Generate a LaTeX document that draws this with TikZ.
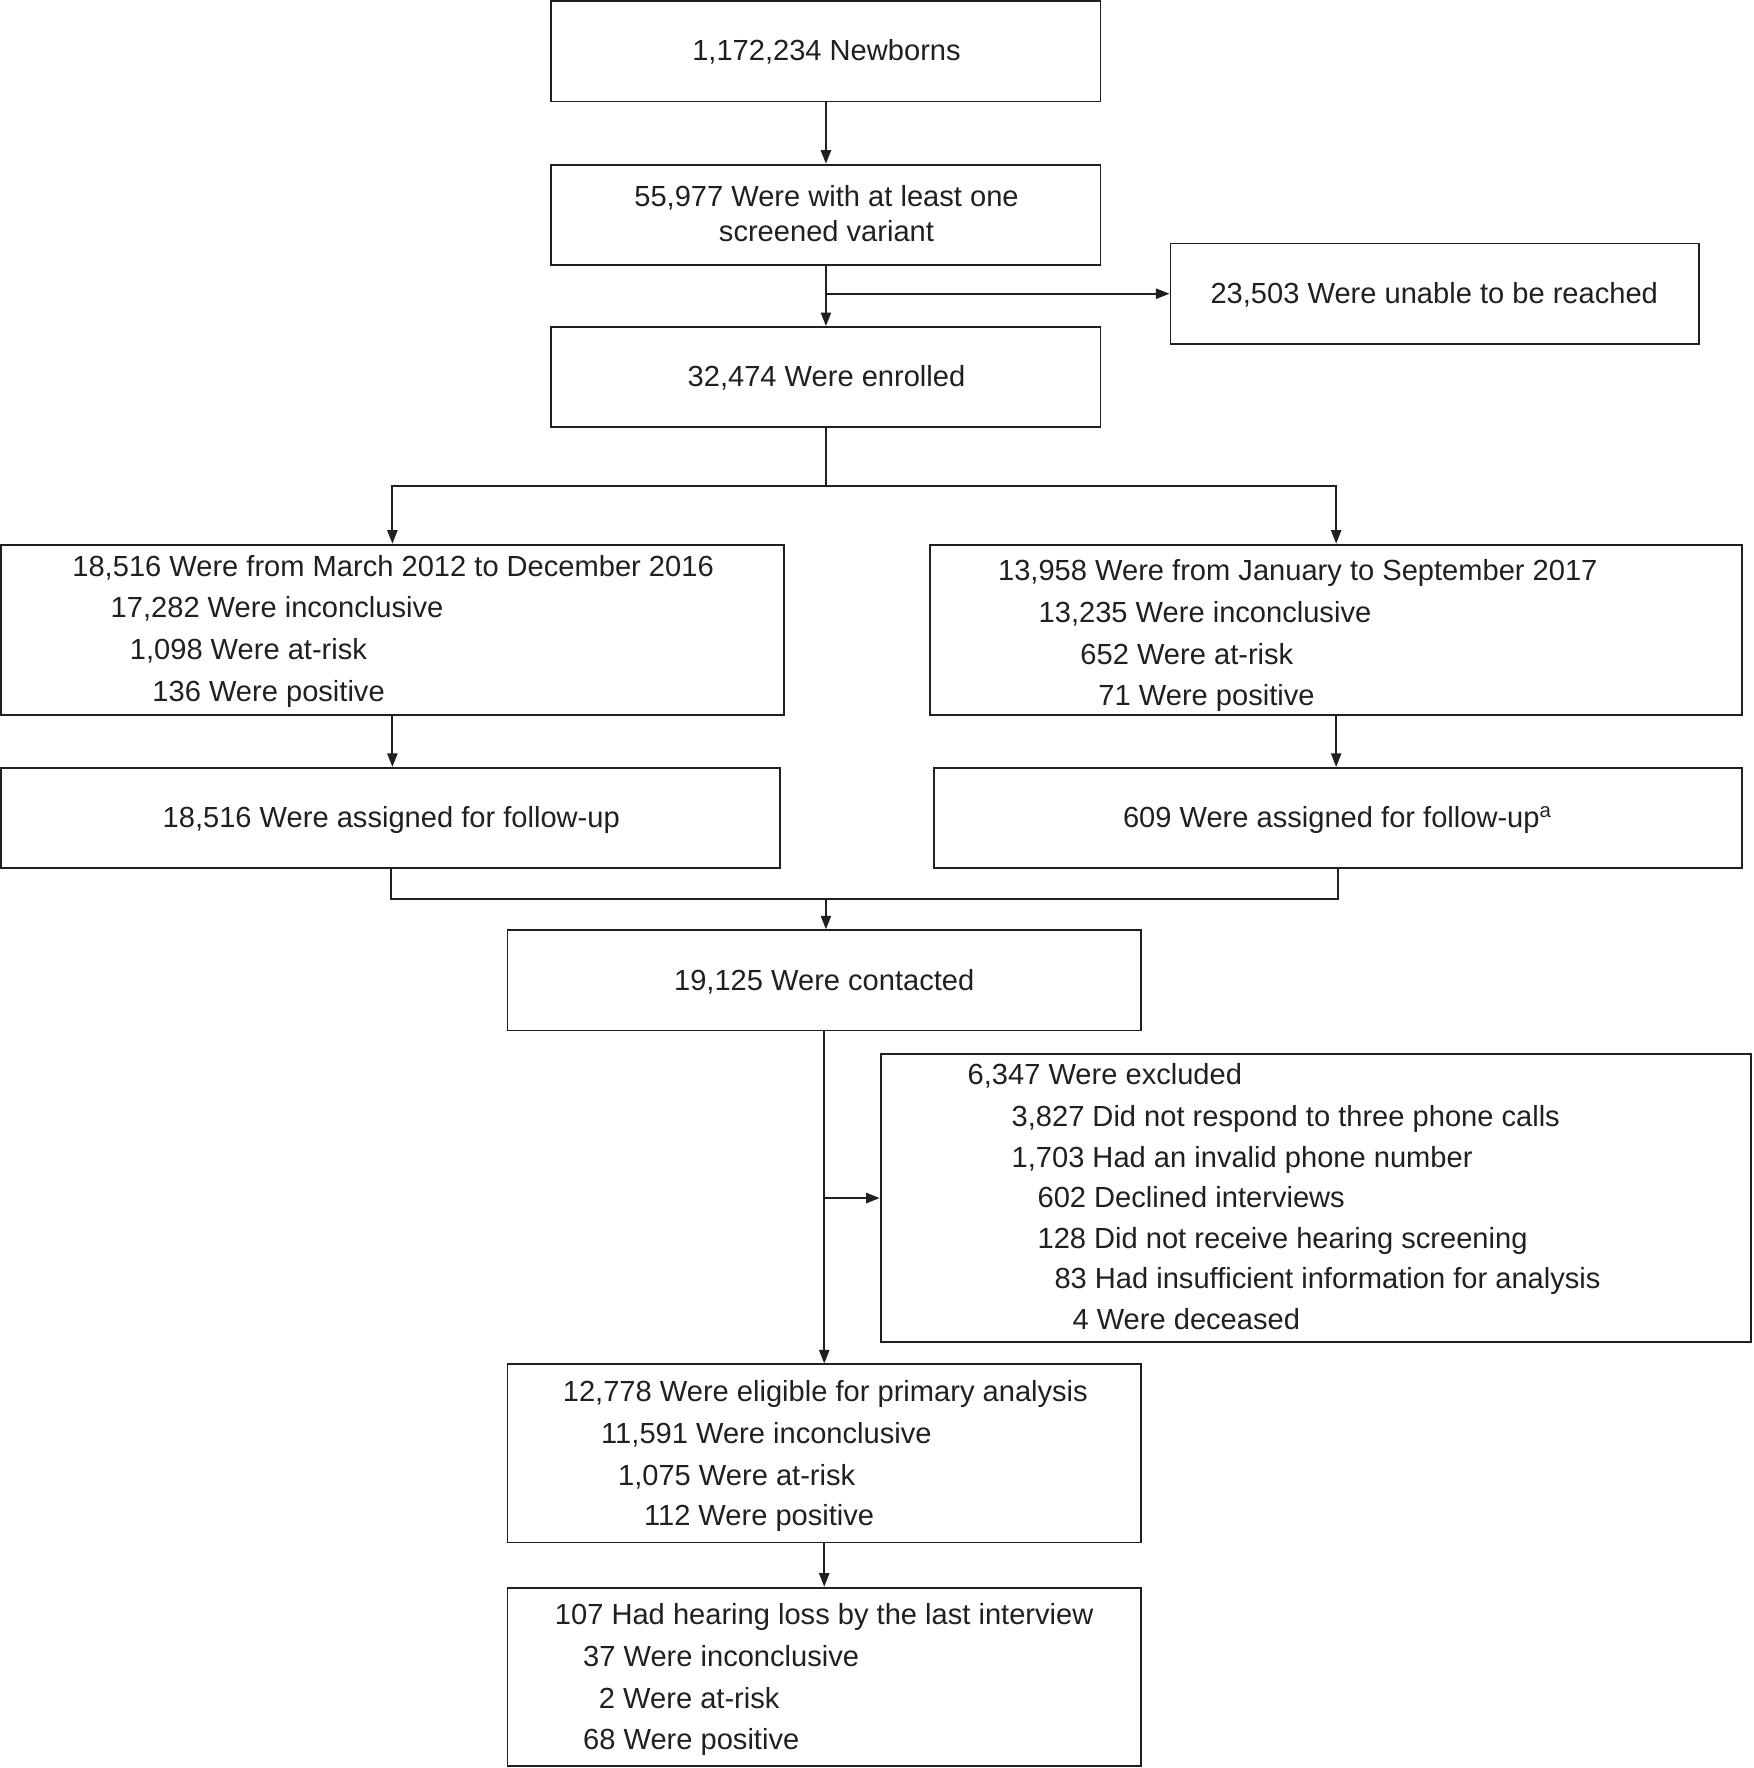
\documentclass[tikz,border=0pt]{standalone}
\usepackage{fontspec}
\setmainfont{Liberation Sans}
\usetikzlibrary{arrows.meta,calc}
\definecolor{ink}{RGB}{35,31,32}
\newcommand\fsz{\fontsize{25.8}{31}\selectfont}
\begin{document}
\begin{tikzpicture}[x=1pt,y=-1pt,
  box/.style={draw=ink, line width=1.6pt, inner sep=0pt},
  ln/.style={font=\fsz, text=ink, inner sep=0pt, anchor=base west},
  cl/.style={font=\fsz, text=ink, inner sep=0pt, anchor=base},
  conn/.style={draw=ink, line width=1.6pt},
  arr/.style={conn, -{Triangle[length=12pt,width=9pt]}}]
\useasboundingbox (0,0) rectangle (1555,1568);

% boxes
\node[box, minimum width=487pt, minimum height=89pt] (n1) at (732.5,45.5) {};
\node[box, minimum width=487pt, minimum height=89pt] (n2) at (732.5,190.5) {};
\node[box, minimum width=469pt, minimum height=89pt] (unr) at (1272.5,260.5) {};
\node[box, minimum width=487pt, minimum height=89pt] (n3) at (732.5,334.5) {};
\node[box, minimum width=694pt, minimum height=151pt] (L1) at (348,558.5) {};
\node[box, minimum width=720pt, minimum height=151pt] (R1) at (1185,558.5) {};
\node[box, minimum width=691pt, minimum height=89pt] (L2) at (346.5,725.5) {};
\node[box, minimum width=717pt, minimum height=89pt] (R2) at (1186.5,725.5) {};
\node[box, minimum width=562pt, minimum height=89pt] (C) at (731,869.5) {};
\node[box, minimum width=772pt, minimum height=255pt] (X) at (1167,1062.5) {};
\node[box, minimum width=562pt, minimum height=158pt] (E) at (731,1289) {};
\node[box, minimum width=562pt, minimum height=158pt] (F) at (731,1487) {};

% texts
\node[cl] (t1) at (733,54) {1,172,234 Newborns};
\node[cl] (t2a) at (733,183) {55,977 Were with at least one};
\node[cl] (t2b) at (733,214) {screened variant};
\node[cl] (tu) at (1272,269) {23,503 Were unable to be reached};
\node[cl] (t3) at (733,343) {32,474 Were enrolled};

\node[ln] (l1a) at (64,511) {18,516 Were from March 2012 to December 2016};
\node[ln] (l1b) at (98,548) {17,282 Were inconclusive};
\node[ln] (l1c) at (115,585) {1,098 Were at-risk};
\node[ln] (l1d) at (135,622) {136 Were positive};

\node[ln] (r1a) at (885,515) {13,958 Were from January to September 2017};
\node[ln] (r1b) at (921,552) {13,235 Were inconclusive};
\node[ln] (r1c) at (958,589) {652 Were at-risk};
\node[ln] (r1d) at (974,626) {71 Were positive};

\node[cl] (tl2) at (347,734) {18,516 Were assigned for follow-up};
\node[cl] (tr2) at (1186,734) {609 Were assigned for follow-up\textsuperscript{a}};
\node[cl] (tc) at (731,878) {19,125 Were contacted};

\node[ln] (xa) at (858,962) {6,347 Were excluded};
\node[ln] (xb) at (897,999) {3,827 Did not respond to three phone calls};
\node[ln] (xc) at (897,1035) {1,703 Had an invalid phone number};
\node[ln] (xd) at (920,1071) {602 Declined interviews};
\node[ln] (xe) at (920,1107) {128 Did not receive hearing screening};
\node[ln] (xf) at (935,1143) {83 Had insufficient information for analysis};
\node[ln] (xg) at (951,1179) {4 Were deceased};

\node[ln] (ea) at (499,1243) {12,778 Were eligible for primary analysis};
\node[ln] (eb) at (533,1280) {11,591 Were inconclusive};
\node[ln] (ec) at (548,1317) {1,075 Were at-risk};
\node[ln] (ed) at (571,1353) {112 Were positive};

\node[ln] (fa) at (492,1441) {107 Had hearing loss by the last interview};
\node[ln] (fb) at (517,1478) {37 Were inconclusive};
\node[ln] (fc) at (531,1515) {2 Were at-risk};
\node[ln] (fd) at (517,1552) {68 Were positive};

% connectors
\draw[arr] (n1) -- (n2);
\draw[arr] (n2) -- (n3);
\draw[arr] (n2.south |- unr.west) -- (unr.west);
\coordinate (split) at (732.5,431);
\draw[conn] (n3.south) -- (split);
\draw[arr] (split) -| (L1.north);
\draw[arr] (split) -| (R1.north);
\draw[arr] (L1.south) -- (L1.south |- L2.north);
\draw[arr] (R1.south) -- (R1.south |- R2.north);
\coordinate (merge) at (732.5,797);
\draw[conn] (L2.south) |- (merge) -| (R2.south);
\draw[arr] (merge) -- (merge |- C.north);
\draw[arr] (C.south) -- (E.north);
\draw[arr] (C.south |- X.west) -- (X.west);
\draw[arr] (E) -- (F);
\end{tikzpicture}
\end{document}
